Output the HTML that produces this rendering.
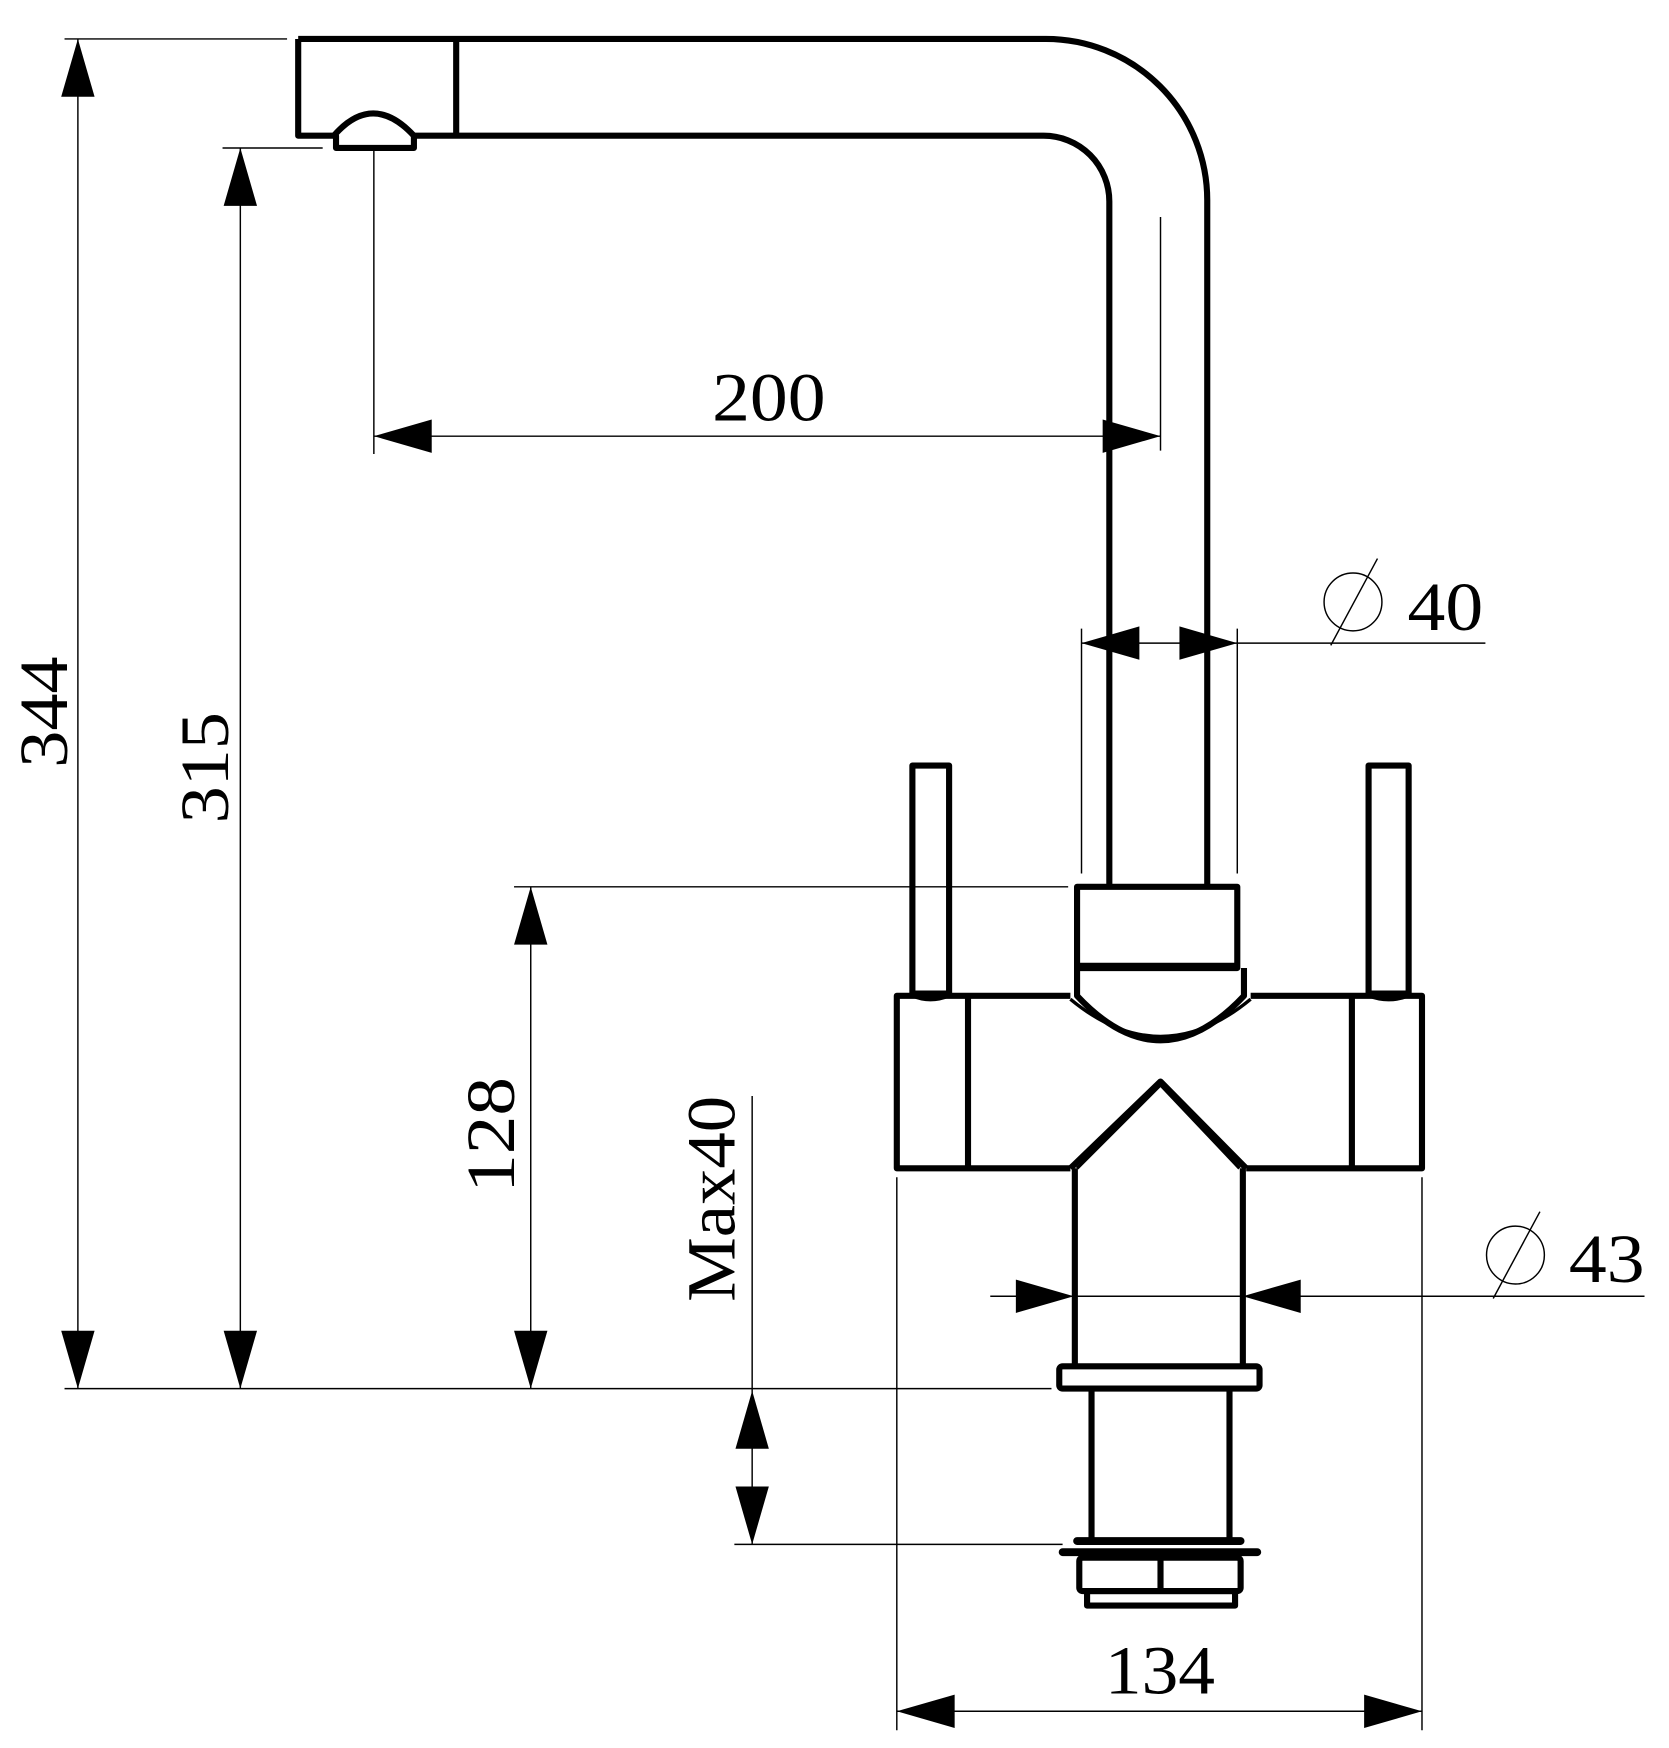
<!DOCTYPE html>
<html><head><meta charset="utf-8"><style>html,body{margin:0;padding:0;background:#fff}svg{display:block}</style></head><body>
<svg width="1669" height="1748" viewBox="0 0 1500 1571" xmlns="http://www.w3.org/2000/svg">
<defs>
<path id="ah" d="M0,0 L-52,-15 L-52,15 Z" fill="#000"/>
</defs>
<g fill="none" stroke="#000" stroke-width="5.5" stroke-linejoin="round">
<!-- spout -->
<path d="M268,35 H940 A145,145 0 0 1 1085,180 V797"/>
<path d="M268,35 V122 H300"/>
<path d="M372,122 H938 A59,59 0 0 1 997,181 V797"/>
<line x1="410" y1="35" x2="410" y2="122"/>
<path d="M300,122 Q335,82 372,122 L372,133 H302 V122 Z"/>
<!-- top block -->
<rect x="968" y="797" width="144" height="73"/>
<line x1="968" y1="868" x2="1112" y2="868"/>
<path d="M968,870 V895 Q1043,975 1118,895 V870"/>
<path d="M962,898 Q1043,965 1124,898" stroke-width="3"/>
<!-- handles -->
<rect x="820" y="688" width="33" height="205"/>
<rect x="1230" y="688" width="36" height="205"/>
<!-- main body -->
<path d="M962,895 H806 V1050 H962"/>
<path d="M1124,895 H1278 V1050 H1120"/>
<line x1="870" y1="895" x2="870" y2="1050"/>
<line x1="1215" y1="895" x2="1215" y2="1050"/>
<path d="M820,895 Q836,902 853,895 M1230,895 Q1248,902 1266,895" stroke-width="3"/>
<path d="M962,1050 L1043,972 L1120,1050"/>
<path d="M968,1050 L1043,975 L1114,1050" stroke-width="3"/>
<!-- stem -->
<line x1="966" y1="1050" x2="966" y2="1228"/>
<line x1="1117" y1="1050" x2="1117" y2="1228"/>
<rect x="952" y="1228" width="180" height="20" rx="3"/>
<line x1="981" y1="1248" x2="981" y2="1388"/>
<line x1="1105" y1="1248" x2="1105" y2="1388"/>
<path d="M968,1385 H1115 M955,1395 H1130" stroke-width="7" stroke-linecap="round"/>
<rect x="970" y="1400" width="145" height="30" rx="3"/>
<line x1="1043" y1="1400" x2="1043" y2="1430"/>
<rect x="977" y="1430" width="133" height="13"/>
</g>
<g stroke="#000" stroke-width="1.3" fill="none">
<line x1="70" y1="35" x2="70" y2="1248"/>
<line x1="58" y1="35" x2="258" y2="35"/>
<line x1="58" y1="1248" x2="945" y2="1248"/>
<line x1="216" y1="133" x2="216" y2="1248"/>
<line x1="200" y1="133" x2="290" y2="133"/>
<line x1="477" y1="797" x2="477" y2="1248"/>
<line x1="462" y1="797" x2="960" y2="797"/>
<line x1="676" y1="985" x2="676" y2="1388"/>
<line x1="660" y1="1388" x2="955" y2="1388"/>
<line x1="336" y1="392" x2="1043" y2="392"/>
<line x1="336" y1="135" x2="336" y2="408"/>
<line x1="1043" y1="195" x2="1043" y2="405"/>
<line x1="972" y1="578" x2="1335" y2="578"/>
<line x1="972" y1="565" x2="972" y2="785"/>
<line x1="1112" y1="565" x2="1112" y2="785"/>
<circle cx="1216" cy="541" r="26"/>
<line x1="1196" y1="580" x2="1238" y2="502"/>
<line x1="890" y1="1165" x2="1478" y2="1165"/>
<circle cx="1362" cy="1128" r="26"/>
<line x1="1342" y1="1167" x2="1384" y2="1089"/>
<line x1="806" y1="1538" x2="1278" y2="1538"/>
<line x1="806" y1="1058" x2="806" y2="1555"/>
<line x1="1278" y1="1058" x2="1278" y2="1555"/>
</g>
<use href="#ah" transform="translate(70,35) rotate(-90)"/>
<use href="#ah" transform="translate(70,1248) rotate(90)"/>
<use href="#ah" transform="translate(216,133) rotate(-90)"/>
<use href="#ah" transform="translate(216,1248) rotate(90)"/>
<use href="#ah" transform="translate(477,797) rotate(-90)"/>
<use href="#ah" transform="translate(477,1248) rotate(90)"/>
<use href="#ah" transform="translate(676,1250) rotate(-90)"/>
<use href="#ah" transform="translate(676,1388) rotate(90)"/>
<use href="#ah" transform="translate(336,392) rotate(180)"/>
<use href="#ah" transform="translate(1043,392)"/>
<use href="#ah" transform="translate(972,578) rotate(180)"/>
<use href="#ah" transform="translate(1112,578)"/>
<use href="#ah" transform="translate(965,1165)"/>
<use href="#ah" transform="translate(1117,1165) rotate(180)"/>
<use href="#ah" transform="translate(806,1538) rotate(180)"/>
<use href="#ah" transform="translate(1278,1538)"/>
<g font-family="Liberation Serif, serif" font-size="62" fill="#000">
<text x="640" y="378" textLength="102" lengthAdjust="spacingAndGlyphs">200</text>
<text x="1265" y="566" textLength="68" lengthAdjust="spacingAndGlyphs">40</text>
<text x="1410" y="1152" textLength="68" lengthAdjust="spacingAndGlyphs">43</text>
<text x="993" y="1522" textLength="99" lengthAdjust="spacingAndGlyphs">134</text>
<text transform="translate(60,690) rotate(-90)" textLength="100" lengthAdjust="spacingAndGlyphs">344</text>
<text transform="translate(205,740) rotate(-90)" textLength="100" lengthAdjust="spacingAndGlyphs">315</text>
<text transform="translate(462,1072) rotate(-90)" textLength="104" lengthAdjust="spacingAndGlyphs">128</text>
<text transform="translate(660,1170) rotate(-90)" textLength="185" lengthAdjust="spacingAndGlyphs">Max40</text>
</g>
</svg>
</body></html>
